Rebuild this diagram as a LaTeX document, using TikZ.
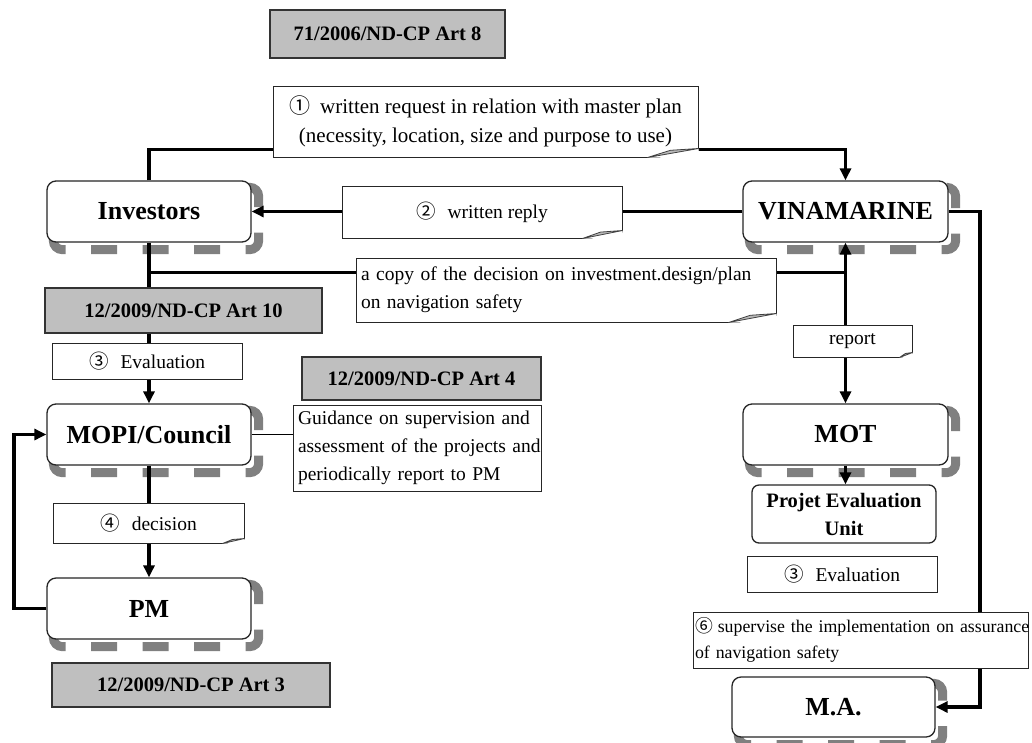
\documentclass[tikz,border=0pt]{standalone}
\usepackage{fontspec}
\setmainfont{Liberation Serif}
\newfontfamily\circfont{Noto Sans CJK SC}
\usetikzlibrary{arrows.meta}
\pgfdeclarelayer{shadowlayer}
\pgfdeclarelayer{linelayer}
\pgfsetlayers{shadowlayer,linelayer,main}

% circled step numbers
\newcommand\cnum[1]{{\circfont #1}}

% dashed drop shadow along the bottom and right of a rounded box
\newcommand\dropshadow[1]{%
  \draw[shadowline] ([shift={(7pt,-7pt)}]#1.west) |- ([shift={(7pt,-7pt)}]#1.south east)
    |- ([shift={(7pt,-7pt)}]#1.north west) -- cycle;}

% turned-up lower right corner of a note
\newcommand\pagecurl[3]{%
  \fill[white] ([xshift=-#2pt]#1.south east) -- ([xshift=1pt,yshift=-1pt]#1.south east)
    -- ([yshift=#3pt]#1.south east) -- cycle;
  \draw[curl] ([xshift=-#2pt]#1.south east) -- ([yshift=#3pt]#1.south east)
    -- ([xshift=-0.55*#2pt,yshift=0.8*#3pt]#1.south east) -- cycle;}

\tikzset{
  actor/.style={draw=black!85, line width=1.3pt, fill=white, rounded corners=9pt,
    minimum width=204pt, minimum height=61pt, inner sep=0pt,
    font=\fontsize{26}{30}\selectfont\bfseries},
  unitbox/.style={draw=black!85, line width=1.3pt, fill=white, rounded corners=7pt,
    inner sep=0pt, align=center, font=\fontsize{20.5}{28}\selectfont\bfseries},
  lawbox/.style={draw=black!80, line width=1.3pt, fill=gray!50, inner sep=0pt,
    font=\fontsize{20.5}{24}\selectfont\bfseries},
  notebox/.style={draw=black!85, line width=1pt, fill=white, inner sep=0pt,
    font=\fontsize{19.5}{28}\selectfont},
  sizeto/.style 2 args={minimum width=#1pt, minimum height=#2pt},
  conn/.style={line width=3.8pt, black},
  arr/.style={conn, -{Triangle[length=12pt,width=11pt]}},
  thinconn/.style={line width=1pt, black},
  shadowline/.style={draw=gray, line width=9pt, rounded corners=9pt,
    dash pattern=on 26pt off 25.5pt, dash phase=47pt},
  curl/.style={fill=gray!55, draw=black!75, line width=.8pt, line join=round},
}

\begin{document}
\begin{tikzpicture}[x=1pt, y=-1pt]
\useasboundingbox (0,0) rectangle (1032,742);
\begin{pgfonlayer}{shadowlayer}
  \fill[white] (0,0) rectangle (1032,742);
\end{pgfonlayer}

% legal references
\node[lawbox, sizeto={235}{48}] (art8) at (387.5,34) {71/2006/ND-CP Art 8};
\node[lawbox, sizeto={277}{45}] (art10) at (183.5,310.5) {12/2009/ND-CP Art 10};
\node[lawbox, sizeto={239}{43}] (art4) at (421.5,378.5) {12/2009/ND-CP Art 4};
\node[lawbox, sizeto={278}{44}] (art3) at (191,685) {12/2009/ND-CP Art 3};

% actors
\node[actor] (inv) at (149,211.5) {Investors};
\node[actor, minimum width=205pt] (vin) at (845.5,211.5) {VINAMARINE};
\node[actor] (mopi) at (149,434.5) {MOPI/Council};
\node[actor, minimum width=205pt] (mot) at (845.5,434.5) {MOT};
\node[actor] (pm) at (149,608.5) {PM};
\node[actor, minimum width=203pt, minimum height=60pt] (ma) at (833.5,707) {M.A.};
\node[unitbox, sizeto={184}{58}] (peu) at (844,514) {Projet Evaluation\\Unit};

% notes on the flows
\node[notebox, sizeto={425}{71}, align=center, font=\fontsize{21}{29}\selectfont] (req) at (485.5,121.5)
  {\cnum{①}\hspace{10pt}written request in relation with master plan\\(necessity, location, size and purpose to use)};
\node[notebox, sizeto={280}{52}] (reply) at (482,212) {\cnum{②}\hspace{12pt}written reply};
\node[notebox, sizeto={420}{64}, inner xsep=5pt, text width=410pt, align=left] (copy) at (566,290)
  {\mbox{a copy of the decision on investment.design/plan}\\\mbox{on navigation safety}};
\node[notebox, sizeto={119}{32}] (report) at (852.5,341) {report};
\node[notebox, sizeto={190}{36}] (eval1) at (147,361) {\cnum{③}\hspace{12pt}Evaluation};
\node[notebox, sizeto={248}{86}, inner xsep=5pt, text width=238pt, align=left] (guide) at (417,448)
  {\mbox{Guidance on supervision and}\\\mbox{assessment of the projects and}\\\mbox{periodically report to PM}};
\node[notebox, sizeto={191}{40}] (dec) at (148.5,523) {\cnum{④}\hspace{12pt}decision};
\node[notebox, sizeto={190}{36}] (eval2) at (842,574) {\cnum{③}\hspace{12pt}Evaluation};
\node[notebox, sizeto={335}{56}, inner xsep=2pt, text width=331pt, align=left,
  font=\fontsize{17.8}{26}\selectfont] (sup) at (860.5,640)
  {\mbox{\cnum{⑥}\hspace{5pt}supervise the implementation on assurance}\\\mbox{of navigation safety}};

\pagecurl{req}{51}{9}
\pagecurl{reply}{40}{8}
\pagecurl{copy}{48}{9}
\pagecurl{report}{13}{5}
\pagecurl{dec}{22}{5}

\begin{pgfonlayer}{shadowlayer}
  \foreach \n in {inv,vin,mopi,mot,pm,ma} {\dropshadow{\n}}
\end{pgfonlayer}

\coordinate (cpL) at ([yshift=-15pt]copy.north west);
\coordinate (cpR) at ([yshift=-15pt]copy.north east);
\coordinate (rx) at (980,0);
\coordinate (lx) at (14,0);

\begin{pgfonlayer}{linelayer}
  % request and reply
  \draw[conn] (inv.north) |- ([yshift=8pt]req.south west);
  \draw[arr] ([yshift=8pt]req.south east) -| (vin.north);
  \draw[conn] (vin.west) -- (reply.east |- vin.west);
  \draw[arr] (reply.west |- inv.east) -- (inv.east);
  % decision copy and report
  \draw[conn] (cpL) -- (cpL -| inv.south);
  \draw[conn] (cpR) -- (cpR -| vin.south);
  \draw[arr] (vin.south |- report.north) -- (vin.south);
  \draw[arr] (vin.south |- report.south) -- (mot.north);
  \draw[arr] (mot.south) -- (mot.south |- peu.north);
  % evaluation and decision chain
  \draw[arr] (inv.south) -- (mopi.north);
  \draw[arr] (mopi.south) -- (pm.north);
  \draw[arr] (pm.west) -| (lx |- mopi.west) -- (mopi.west);
  \draw[thinconn] (mopi.east) -- (mopi.east -| guide.west);
  % supervision
  \draw[arr] (vin.east) -| (rx |- ma.east) -- (ma.east);
\end{pgfonlayer}
\end{tikzpicture}
\end{document}
